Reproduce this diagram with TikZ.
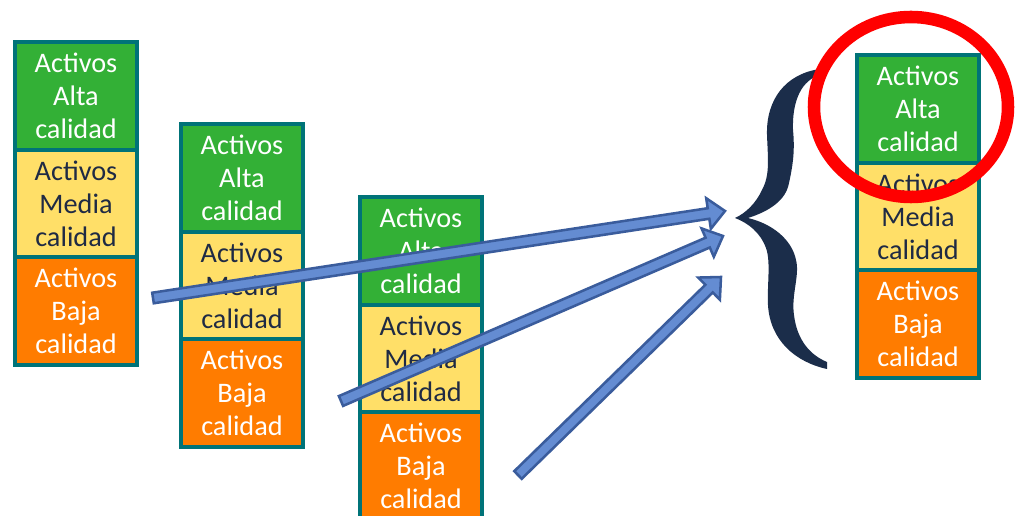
\documentclass[tikz,border=0pt]{standalone}
\usepackage{fontspec}
\setmainfont{Carlito}
\usetikzlibrary{calc}
\definecolor{cgreen}{RGB}{51,176,54}
\definecolor{cyellow}{RGB}{255,223,104}
\definecolor{corange}{RGB}{255,124,0}
\definecolor{cteal}{RGB}{0,115,120}
\definecolor{cnavy}{RGB}{31,42,68}
\definecolor{alight}{RGB}{100,140,210}
\definecolor{adark}{RGB}{58,92,156}
\definecolor{bracecol}{RGB}{27,45,74}
\newcommand\mkstack[3]{%
  \node[cellbox,fill=cgreen,text=white] (#1a) at ({#2+63},{#3+2+53.85}) {Activos\\Alta\\calidad};
  \node[cellbox,fill=cyellow,text=cnavy] (#1b) at ({#2+63},{#3+2+53.85+107.7}) {Activos\\Media\\calidad};
  \node[cellbox,fill=corange,text=white] (#1c) at ({#2+63},{#3+2+53.85+215.4}) {Activos\\Baja\\calidad};
}
\newcommand\mkarrow[2]{%
  \coordinate (hb) at ($(#2)!12.5pt!(#1)$);
  \filldraw[blockarrow]
    ($(#1)!4pt!90:(#2)$) -- ($(hb)!4pt!90:(#2)$) -- ($(hb)!11.6pt!90:(#2)$) -- (#2)
    -- ($(hb)!11.6pt!-90:(#2)$) -- ($(hb)!4pt!-90:(#2)$) -- ($(#1)!4pt!-90:(#2)$) -- cycle;
}
\begin{document}
\begin{tikzpicture}[x=0.75pt,y=-0.75pt,
  cellbox/.style={draw=cteal,line width=3pt,rectangle,minimum width=91.5pt,minimum height=80.8pt,
    inner sep=0pt,align=center,font=\fontsize{21.2}{24.75}\selectfont},
  blockarrow/.style={fill=alight,draw=adark,line width=1.9pt,line join=miter}]
\useasboundingbox (0,0) rectangle (1015,516);
\clip (0,0) rectangle (1015,516);
\fill[white] (0,0) rectangle (1015,516);
\mkstack{p}{13}{40}
\mkstack{q}{179}{122}
\mkstack{r}{358}{195}
\mkstack{s}{855}{53}
% brace
\fill[bracecol] (820,69) .. controls (785,74) and (766,100) .. (767,135)
  .. controls (768,160) and (770,175) .. (762,190)
  .. controls (756,203) and (746,213) .. (735,218)
  .. controls (748,223) and (760,232) .. (766,248)
  .. controls (771,262) and (767,285) .. (768,305)
  .. controls (770,340) and (795,362) .. (827,369)
  -- (827,362) .. controls (810,355) and (797,340) .. (794,315)
  .. controls (791,295) and (800,275) .. (796,260)
  .. controls (792,240) and (773,224) .. (748,218)
  .. controls (770,211) and (786,200) .. (789,183)
  .. controls (793,165) and (795,150) .. (793,130)
  .. controls (792,100) and (802,80) .. (820,75) -- cycle;
% arrows
\coordinate (t1) at (153,298); \coordinate (e1) at (725,211);
\coordinate (t2) at (341,401); \coordinate (e2) at (723,236);
\coordinate (t3) at (518,475); \coordinate (e3) at (721,277);
\mkarrow{t1}{e1}
\mkarrow{t2}{e2}
\mkarrow{t3}{e3}
% red circle
\draw[red,line width=9.4pt] (911,107) ellipse [x radius=97,y radius=90];
\end{tikzpicture}
\end{document}
